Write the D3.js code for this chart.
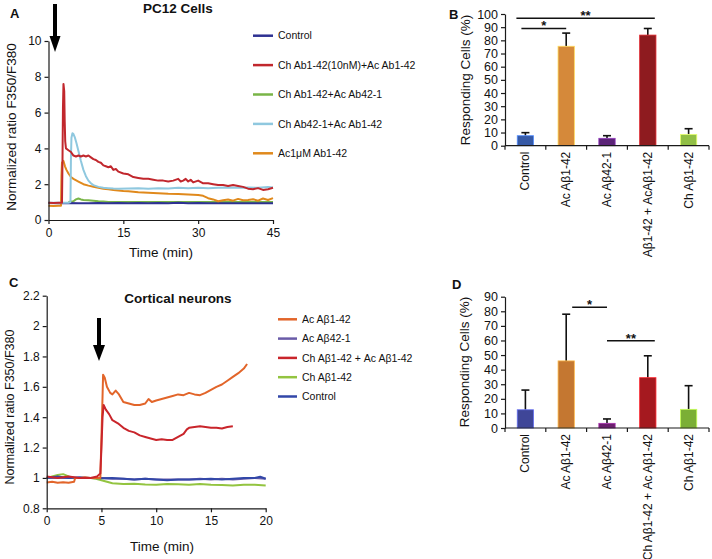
<!DOCTYPE html>
<html><head><meta charset="utf-8">
<script src="https://cdn.jsdelivr.net/npm/d3@7"></script>
<style>
body{margin:0;background:#fff}
svg{display:block}
text{font-family:"Liberation Sans",Arial,Helvetica,sans-serif;fill:#111}
</style>
</head><body>
<svg id="chart" width="712" height="559"></svg>
<script>
// ---------------- Panel A data (PC12 cells), [time (min), ratio] ----------------
const aSeriesNames = ["Control","Ch Ab1-42(10nM)+Ac Ab1-42","Ch Ab1-42+Ac Ab42-1","Ch Ab42-1+Ac Ab1-42","Ac1\u03bcM Ab1-42"];
const aColors = ["#2E3192","#C1272D","#79B547","#8FC8DF","#E0891C"];
const aControl = [[0,0.95],[2,0.94],[4,0.95],[6,0.93],[8,0.94],[10,0.95],[12,0.94],[14,0.95],[16,0.94],[18,0.95],[20,0.94],[22,0.95],[24,0.94],[26,0.96],[28,0.94],[30,0.95],[32,0.94],[34,0.93],[36,0.94],[38,0.93],[40,0.94],[42,0.93],[44,0.94],[45,0.94]];
const aRed = [[0,0.96],[1,0.95],[2,0.96],[2.7,0.96],[2.8,3.2],[2.9,6.3],[3.0,7.6],[3.15,7.2],[3.25,5.5],[3.35,4.4],[3.5,4.0],[4,3.9],[4.5,3.8],[5,3.6],[5.5,3.55],[6,3.6],[6.5,3.55],[7,3.6],[7.5,3.55],[8,3.6],[8.5,3.5],[9,3.4],[9.5,3.35],[10,3.25],[10.5,3.2],[11,3.05],[11.5,3.0],[12,2.95],[12.5,3.0],[13,2.8],[13.5,2.85],[14,2.7],[15,2.6],[16,2.55],[17,2.4],[18,2.35],[19,2.3],[20,2.3],[21,2.25],[22,2.2],[23,2.2],[24,2.15],[25,2.2],[26,2.3],[26.5,2.15],[27,2.2],[27.5,2.3],[28,2.15],[28.5,2.25],[29,2.1],[30,2.2],[31,2.05],[32,2.05],[33,2.0],[34,1.95],[35,1.95],[36,1.9],[37,1.95],[38,1.9],[39,1.85],[40,1.75],[41,1.72],[42,1.78],[43,1.68],[44,1.72],[45,1.8]];
const aGreen = [[4,1.0],[5,1.05],[5.5,1.15],[6,1.2],[6.5,1.15],[7,1.12],[8,1.1],[9,1.08],[10,1.05],[11,1.03],[12,1.0],[14,1.0],[16,1.0],[18,1.0],[20,1.0],[22,1.0],[24,1.0],[26,1.0],[28,1.0],[30,1.0],[32,1.0],[34,1.0],[36,1.0],[38,1.0],[40,1.0],[42,1.0],[44,1.0],[45,1.0]];
const aBlue = [[0,0.97],[1,0.96],[2,0.97],[3,0.96],[4,0.96],[4.4,1.0],[4.5,3.5],[4.6,4.6],[4.8,4.85],[5.0,4.8],[5.3,4.6],[5.6,4.3],[6,3.85],[6.5,3.3],[7,2.8],[7.5,2.45],[8,2.2],[8.5,2.05],[9,1.95],[10,1.85],[11,1.8],[12,1.78],[13,1.76],[14,1.75],[16,1.76],[18,1.78],[20,1.75],[22,1.78],[24,1.76],[26,1.8],[28,1.78],[30,1.8],[32,1.78],[34,1.8],[36,1.82],[38,1.8],[40,1.82],[42,1.8],[44,1.85],[45,1.82]];
const aOrange = [[0,0.8],[1,0.78],[2,0.8],[2.5,0.8],[2.6,2.5],[2.7,3.2],[3.0,3.3],[3.3,3.0],[3.6,2.8],[4,2.6],[4.5,2.4],[5,2.3],[6,2.15],[7,2.0],[8,1.92],[9,1.86],[10,1.8],[11,1.75],[12,1.72],[13,1.68],[14,1.65],[15,1.62],[16,1.6],[17,1.58],[18,1.55],[20,1.52],[22,1.5],[24,1.46],[26,1.45],[28,1.42],[30,1.4],[31,1.35],[32,1.22],[33,1.15],[34,1.05],[35,1.1],[36,1.15],[37,1.08],[38,1.18],[39,1.1],[40,1.12],[41,1.16],[42,1.08],[43,1.2],[44,1.12],[45,1.22]];
const aSeries = [aControl, aRed, aGreen, aBlue, aOrange];
const aDrawOrder = [2,0,4,3,1];
const aXTicks = [0,15,30,45];
const aYTicks = [0,2,4,6,8,10];

// ---------------- Panel B data (PC12 responding cells) ----------------
const bCats = ["Control","Ac A\u03b21-42","Ac A\u03b242-1","Ch A\u03b21-42 + AcA\u03b21-42","Ch A\u03b21-42"];
const bValues = [7.6, 75.5, 5.6, 84, 8.6];
const bErrors = [2.3, 10, 2, 5, 4.3];
const bColors = ["#3559A6","#D5893A","#5B2377","#8E1B1F","#91BF45"];
const bYTicks = [0,10,20,30,40,50,60,70,80,90,100];
const bSig = [{from:0,to:1,level:89,label:"*"},{from:0,to:3,level:96.7,label:"**"}];

// ---------------- Panel C data (cortical neurons) ----------------
const cSeriesNames = ["Ac A\u03b21-42","Ac A\u03b242-1","Ch A\u03b21-42 + Ac A\u03b21-42","Ch A\u03b21-42","Control"];
const cColors = ["#E2652A","#6A5BA8","#C9252B","#93C440","#3247A8"];
const cOrange = [[0,0.97],[0.5,0.975],[1,0.968],[1.5,0.972],[2,0.968],[2.5,0.975],[2.6,1.0],[3,1.0],[3.5,1.005],[4,1.0],[4.5,1.0],[4.9,1.0],[5.05,1.4],[5.15,1.68],[5.3,1.66],[5.5,1.6],[5.8,1.56],[6,1.55],[6.3,1.575],[6.6,1.55],[7,1.5],[7.5,1.49],[8,1.48],[8.5,1.48],[9,1.49],[9.3,1.52],[9.6,1.5],[10,1.51],[10.5,1.52],[11,1.53],[11.5,1.54],[12,1.55],[12.5,1.545],[13,1.56],[13.5,1.55],[14,1.545],[14.5,1.56],[15,1.58],[15.5,1.6],[16,1.615],[16.5,1.64],[17,1.665],[17.5,1.69],[18,1.72],[18.3,1.75]];
const cPurple = [[0,1.0],[1,1.0],[2,1.0],[3,1.0],[4,1.0],[5,1.0],[6,0.995],[7,0.995],[8,0.99],[9,0.995],[10,0.99],[11,0.99],[12,0.99],[13,0.99],[14,0.995],[15,0.99],[16,0.995],[17,0.99],[18,0.995],[19,1.0],[20,0.995]];
const cRed = [[0,1.01],[1,1.0],[2,1.01],[3,1.0],[4,1.0],[4.6,1.01],[4.9,1.03],[5.0,1.2],[5.1,1.4],[5.2,1.48],[5.4,1.45],[5.7,1.42],[6,1.38],[6.5,1.36],[7,1.33],[7.5,1.31],[8,1.3],[8.5,1.28],[9,1.27],[9.5,1.26],[10,1.25],[10.5,1.255],[11,1.25],[11.5,1.25],[12,1.27],[12.5,1.29],[12.8,1.32],[13,1.33],[13.5,1.335],[14,1.34],[14.5,1.335],[15,1.33],[15.5,1.33],[16,1.325],[16.5,1.335],[17,1.34]];
const cGreen = [[0,1.0],[0.5,1.01],[1,1.02],[1.5,1.025],[2,1.01],[2.5,1.0],[3,1.0],[3.5,1.0],[4,1.0],[4.5,0.995],[5,0.985],[5.5,0.975],[6,0.965],[7,0.96],[8,0.962],[9,0.957],[10,0.955],[11,0.96],[12,0.958],[13,0.955],[14,0.96],[15,0.955],[16,0.953],[17,0.95],[18,0.955],[19,0.955],[20,0.95]];
const cControl = [[0,1.0],[1,1.01],[2,1.0],[3,1.005],[4,1.0],[5,0.998],[6,1.0],[7,0.995],[8,0.99],[9,0.995],[10,0.99],[11,0.985],[12,0.99],[13,0.99],[14,0.992],[15,0.995],[16,0.99],[17,0.995],[18,1.0],[19,1.0],[19.5,1.008],[20,0.995]];
const cSeries = [cOrange, cPurple, cRed, cGreen, cControl];
const cDrawOrder = [1,3,4,0,2];
const cXTicks = [0,5,10,15,20];
const cYTicks = [0.8,1,1.2,1.4,1.6,1.8,2,2.2];

// ---------------- Panel D data (cortical responding cells) ----------------
const dCats = ["Control","Ac A\u03b21-42","Ac A\u03b242-1","Ch A\u03b21-42 + Ac A\u03b21-42","Ch A\u03b21-42"];
const dValues = [12.5, 46, 3.2, 34.5, 12.8];
const dErrors = [13.5, 32, 3, 15, 16.2];
const dColors = ["#3F4698","#C47731","#6B1E6E","#A5191F","#7BAF35"];
const dYTicks = [0,10,20,30,40,50,60,70,80,90];
const dSig = [{from:1,to:2,level:82.7,label:"*"},{from:2,to:3,level:59.8,label:"**"}];

// ======================================================================
const svg = d3.select("#chart");
svg.append("rect").attr("width",712).attr("height",559).attr("fill","#fff");
const AX = "#1a1a1a";

function styleAxis(g, fs){
  g.selectAll("path.domain").attr("stroke",AX).attr("stroke-width",1.2);
  g.selectAll(".tick line").attr("stroke",AX).attr("stroke-width",1.2);
  g.selectAll(".tick text").attr("font-size",fs).attr("fill","#111")
    .attr("font-family","'Liberation Sans',Arial,sans-serif");
}

function arrow(x, yTop, yHeadStart, yTip, halfW){
  svg.append("rect").attr("x",x-2).attr("y",yTop).attr("width",4).attr("height",yHeadStart-yTop+1).attr("fill","#000");
  svg.append("path").attr("d",`M${x-halfW},${yHeadStart}L${x+halfW},${yHeadStart}L${x},${yTip}Z`).attr("fill","#000");
}

function linePanel(o){
  const x = d3.scaleLinear().domain(o.xDomain).range(o.xRange);
  const y = d3.scaleLinear().domain(o.yDomain).range(o.yRange);
  const line = d3.line().x(d=>x(d[0])).y(d=>y(d[1]));
  o.order.forEach(i=>{
    svg.append("path").datum(o.series[i]).attr("d",line)
      .attr("fill","none").attr("stroke",o.colors[i]).attr("stroke-width",o.lw)
      .attr("stroke-linejoin","round");
  });
  const gx = svg.append("g").attr("transform",`translate(0,${o.yRange[0]})`)
    .call(d3.axisBottom(x).tickValues(o.xTicks).tickSize(4).tickSizeOuter(0).tickPadding(4).tickFormat(d3.format("")));
  styleAxis(gx, o.fs);
  const gy = svg.append("g").attr("transform",`translate(${o.xRange[0]},0)`)
    .call(d3.axisLeft(y).tickValues(o.yTicks).tickSize(4).tickSizeOuter(0).tickPadding(3).tickFormat(d3.format("")));
  styleAxis(gy, o.fs);
  return {x,y};
}

function barPanel(o){
  const x = d3.scaleBand().domain(o.cats).range(o.xRange).paddingInner(0.6).paddingOuter(0.3);
  const y = d3.scaleLinear().domain(o.yDomain).range(o.yRange);
  const g = svg.append("g");
  // error bars (upper only)
  o.cats.forEach((c,i)=>{
    const cx = x(c)+x.bandwidth()/2;
    const top = y(o.values[i]+o.errors[i]);
    g.append("line").attr("x1",cx).attr("x2",cx).attr("y1",y(o.values[i])).attr("y2",top).attr("stroke","#111").attr("stroke-width",1.6);
    g.append("line").attr("x1",cx-4).attr("x2",cx+4).attr("y1",top).attr("y2",top).attr("stroke","#111").attr("stroke-width",1.6);
  });
  g.selectAll("rect.bar").data(o.cats).enter().append("rect")
    .attr("x",c=>x(c)).attr("width",x.bandwidth())
    .attr("y",(c,i)=>y(o.values[i])).attr("height",(c,i)=>o.yRange[0]-y(o.values[i]))
    .attr("fill",(c,i)=>o.colors[i]).attr("stroke",(c,i)=>d3.color(o.colors[i]).brighter(1.3)).attr("stroke-width",0.8);
  // y axis
  const gy = svg.append("g").attr("transform",`translate(${o.xRange[0]},0)`)
    .call(d3.axisLeft(y).tickValues(o.yTicks).tickSize(4).tickSizeOuter(0).tickPadding(3));
  styleAxis(gy, o.fs);
  // x axis line + boundary ticks
  svg.append("line").attr("x1",o.xRange[0]).attr("x2",o.xRange[1]).attr("y1",o.yRange[0]).attr("y2",o.yRange[0]).attr("stroke",AX).attr("stroke-width",1.2);
  d3.range(o.cats.length+1).forEach(k=>{
    const bx = o.xRange[0]+k*x.step();
    svg.append("line").attr("x1",bx).attr("x2",bx).attr("y1",o.yRange[0]).attr("y2",o.yRange[0]+4).attr("stroke",AX).attr("stroke-width",1.2);
  });
  // rotated labels
  const lg = svg.append("g");
  if(o.clip){
    const id="clip"+Math.round(o.yRange[0]);
    svg.append("clipPath").attr("id",id).append("rect").attr("x",o.xRange[0]).attr("y",o.yRange[0]).attr("width",o.xRange[1]-o.xRange[0]).attr("height",o.clip-o.yRange[0]);
    lg.attr("clip-path",`url(#${id})`);
  }
  o.cats.forEach(c=>{
    const cx = x(c)+x.bandwidth()/2;
    lg.append("text").attr("transform",`translate(${cx+4},${o.yRange[0]+6}) rotate(-90)`)
      .attr("text-anchor","end").attr("font-size",o.lfs).text(c);
  });
  // significance
  o.sig.forEach(s=>{
    const x1 = x(o.cats[s.from])+x.bandwidth()/2 - (s.label==="**"&&s.from===0?9:-(s.from===1?6:0)) - (s.label==="*"&&s.from===0?4:0);
    const x2 = x(o.cats[s.to])+x.bandwidth()/2 + (s.label==="**"?7:0);
    const ly = y(s.level);
    svg.append("line").attr("x1",x1).attr("x2",x2).attr("y1",ly).attr("y2",ly).attr("stroke","#111").attr("stroke-width",1.5);
    svg.append("text").attr("x",(x1+x2)/2).attr("y",ly+2).attr("text-anchor","middle").attr("font-size",13).attr("font-weight","bold").text(s.label);
  });
  return {x,y};
}

function legend(names, colors, x0, y0, step, fs, lineLen){
  names.forEach((n,i)=>{
    const yy = y0+i*step;
    svg.append("line").attr("x1",x0).attr("x2",x0+lineLen).attr("y1",yy).attr("y2",yy).attr("stroke",colors[i]).attr("stroke-width",2.5);
    svg.append("text").attr("x",x0+lineLen+5).attr("y",yy).attr("dy","0.35em").attr("font-size",fs).text(n);
  });
}

function label(txt, x, y, fs, bold, rot){
  const t = svg.append("text").attr("font-size",fs).attr("text-anchor","middle").text(txt);
  if(bold) t.attr("font-weight","bold");
  if(rot) t.attr("transform",`translate(${x},${y}) rotate(-90)`).attr("dy","0.35em");
  else t.attr("x",x).attr("y",y);
  return t;
}

// ---------- Panel A ----------
linePanel({xDomain:[0,45], xRange:[48.5,273], yDomain:[0,10], yRange:[220,41],
  series:aSeries, colors:aColors, order:aDrawOrder, xTicks:aXTicks, yTicks:aYTicks, lw:2, fs:12});
legend(aSeriesNames, aColors, 253, 35.7, 29.4, 10.5, 20);
label("PC12 Cells", 178, 13, 13.5, true);
label("Time (min)", 161, 257, 13.5);
label("Normalized ratio F350/F380", 11, 127, 13.5, false, true);
svg.append("text").attr("x",10).attr("y",18).attr("font-size",13).attr("font-weight","bold").text("A");
arrow(55, 4, 36, 52, 5.5);

// ---------- Panel B ----------
barPanel({cats:bCats, values:bValues, errors:bErrors, colors:bColors, xRange:[505,709], yDomain:[0,100], yRange:[145.7,14],
  yTicks:bYTicks, fs:12.5, lfs:12, sig:bSig, clip:258});
label("Responding Cells (%)", 465, 80, 13.5, false, true);
svg.append("text").attr("x",449).attr("y",19).attr("font-size",13).attr("font-weight","bold").text("B");

// ---------- Panel C ----------
linePanel({xDomain:[0,20], xRange:[46.7,265.7], yDomain:[0.8,2.2], yRange:[508.3,295.7],
  series:cSeries, colors:cColors, order:cDrawOrder, xTicks:cXTicks, yTicks:cYTicks, lw:2, fs:12});
legend(cSeriesNames, cColors, 278, 319.3, 19.3, 10.5, 19);
label("Cortical neurons", 178, 303, 13.5, true);
label("Time (min)", 162, 551, 13.5);
label("Normalized ratio F350/F380", 10, 407, 12.5, false, true);
svg.append("text").attr("x",9).attr("y",287).attr("font-size",13).attr("font-weight","bold").text("C");
arrow(99, 318, 345, 361, 6);

// ---------- Panel D ----------
barPanel({cats:dCats, values:dValues, errors:dErrors, colors:dColors, xRange:[505,709], yDomain:[0,90], yRange:[428,296.7],
  yTicks:dYTicks, fs:12.5, lfs:12, sig:dSig});
label("Responding Cells (%)", 464, 362, 13.5, false, true);
svg.append("text").attr("x",452).attr("y",289).attr("font-size",13).attr("font-weight","bold").text("D");
</script>
</body></html>
